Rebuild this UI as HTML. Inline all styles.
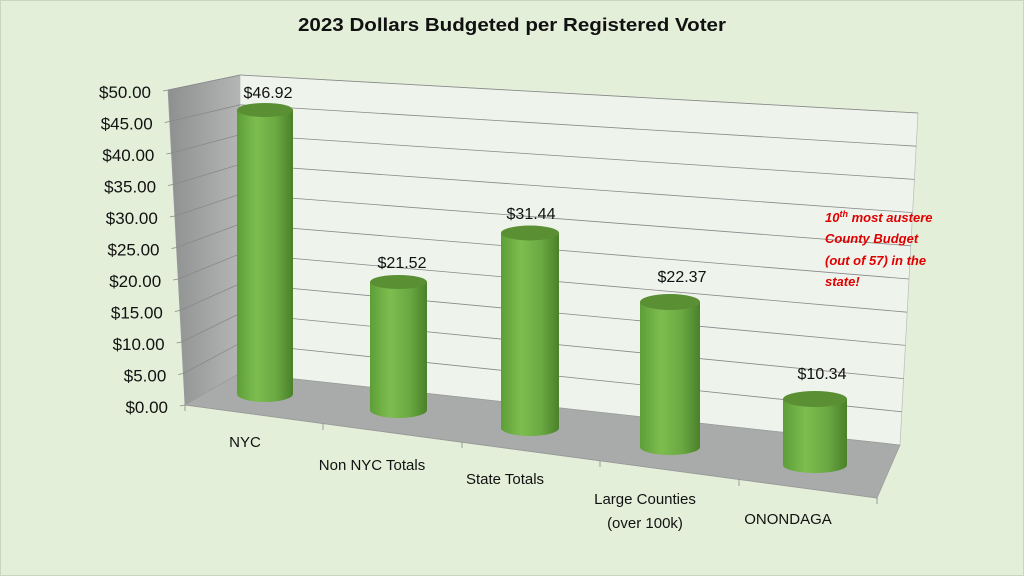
<!DOCTYPE html>
<html><head><meta charset="utf-8"><style>
body{margin:0;background:#e3efd9;}
svg{display:block;font-family:"Liberation Sans",sans-serif;}
</style></head><body>
<svg width="1024" height="576" viewBox="0 0 1024 576">
<defs>
<linearGradient id="cyl" x1="0" x2="1" y1="0" y2="0">
<stop offset="0" stop-color="#5e9e38"/><stop offset="0.35" stop-color="#7dbd4f"/><stop offset="0.7" stop-color="#6aa842"/><stop offset="1" stop-color="#4a8129"/>
</linearGradient>
<linearGradient id="side" x1="0" x2="1"><stop offset="0" stop-color="#8e9090"/><stop offset="1" stop-color="#b4b6b6"/></linearGradient>
</defs>
<rect width="1024" height="576" fill="#e3efd9"/>
<rect x="0.5" y="0.5" width="1023" height="575" fill="none" stroke="#c8d6bf"/>
<text x="512" y="31" text-anchor="middle" font-size="18" font-weight="bold" fill="#111" textLength="428" lengthAdjust="spacingAndGlyphs">2023 Dollars Budgeted per Registered Voter</text>
<polygon points="168,90 240,75 240,373 185,405" fill="url(#side)" stroke="#999" stroke-width="0.7"/>
<polygon points="240,75 918,113 900,445 240,373" fill="#eef3ec" stroke="#bbb" stroke-width="0.7"/>
<polygon points="185,405 240,373 900,445 877,498" fill="#a9abab" stroke="#999" stroke-width="0.7"/>
<g stroke="#888" stroke-width="0.8" fill="none">
<line x1="240" y1="75" x2="918" y2="113"/><line x1="240" y1="104.8" x2="916.2" y2="146.2"/><line x1="240" y1="134.6" x2="914.4" y2="179.4"/><line x1="240" y1="164.4" x2="912.6" y2="212.6"/><line x1="240" y1="194.2" x2="910.8" y2="245.8"/><line x1="240" y1="224" x2="909" y2="279"/><line x1="240" y1="253.8" x2="907.2" y2="312.2"/><line x1="240" y1="283.6" x2="905.4" y2="345.4"/><line x1="240" y1="313.4" x2="903.6" y2="378.6"/><line x1="240" y1="343.2" x2="901.8" y2="411.8"/>
<line x1="168" y1="90" x2="240" y2="75"/><line x1="169.7" y1="121.5" x2="240" y2="104.8"/><line x1="171.4" y1="153" x2="240" y2="134.6"/><line x1="173.1" y1="184.5" x2="240" y2="164.4"/><line x1="174.8" y1="216" x2="240" y2="194.2"/><line x1="176.5" y1="247.5" x2="240" y2="224"/><line x1="178.2" y1="279" x2="240" y2="253.8"/><line x1="179.9" y1="310.5" x2="240" y2="283.6"/><line x1="181.6" y1="342" x2="240" y2="313.4"/><line x1="183.3" y1="373.5" x2="240" y2="343.2"/>
<line x1="185" y1="405" x2="877" y2="498" stroke="#999"/>
<line x1="185" y1="405" x2="185" y2="411"/><line x1="323" y1="423.6" x2="323" y2="430"/><line x1="462" y1="442" x2="462" y2="448"/><line x1="600" y1="460.8" x2="600" y2="467"/><line x1="739" y1="479.4" x2="739" y2="486"/><line x1="877" y1="498" x2="877" y2="504"/>
<line x1="163" y1="91" x2="168" y2="90"/><line x1="164.7" y1="122.5" x2="169.7" y2="121.5"/><line x1="166.4" y1="154" x2="171.4" y2="153"/><line x1="168.1" y1="185.5" x2="173.1" y2="184.5"/><line x1="169.8" y1="217" x2="174.8" y2="216"/><line x1="171.5" y1="248.5" x2="176.5" y2="247.5"/><line x1="173.2" y1="280" x2="178.2" y2="279"/><line x1="174.9" y1="311.5" x2="179.9" y2="310.5"/><line x1="176.6" y1="343" x2="181.6" y2="342"/><line x1="178.3" y1="374.5" x2="183.3" y2="373.5"/><line x1="180" y1="406" x2="185" y2="405"/>
</g>
<g font-size="17" fill="#111" text-anchor="end">
<text x="151" y="98">$50.00</text><text x="152.7" y="129.5">$45.00</text><text x="154.4" y="161">$40.00</text><text x="156.1" y="192.5">$35.00</text><text x="157.8" y="224">$30.00</text><text x="159.5" y="255.5">$25.00</text><text x="161.2" y="287">$20.00</text><text x="162.9" y="318.5">$15.00</text><text x="164.6" y="350">$10.00</text><text x="166.3" y="381.5">$5.00</text><text x="168" y="413">$0.00</text>
</g>
<g>
<path d="M237,110 L237,394 A28,8 0 0 0 293,394 L293,110 Z" fill="url(#cyl)"/><ellipse cx="265" cy="110" rx="28" ry="7" fill="#5a8f34"/>
<path d="M370,282 L370,410 A28.5,8 0 0 0 427,410 L427,282 Z" fill="url(#cyl)"/><ellipse cx="398.5" cy="282" rx="28.5" ry="7" fill="#5a8f34"/>
<path d="M501,233 L501,428 A29,8 0 0 0 559,428 L559,233 Z" fill="url(#cyl)"/><ellipse cx="530" cy="233" rx="29" ry="7.5" fill="#5a8f34"/>
<path d="M640,302 L640,447 A30,8 0 0 0 700,447 L700,302 Z" fill="url(#cyl)"/><ellipse cx="670" cy="302" rx="30" ry="8" fill="#5a8f34"/>
<path d="M783,399 L783,465 A32,8 0 0 0 847,465 L847,399 Z" fill="url(#cyl)"/><ellipse cx="815" cy="399" rx="32" ry="8" fill="#5a8f34"/>
</g>
<g font-size="16" fill="#111" text-anchor="middle">
<text x="268" y="98">$46.92</text><text x="402" y="268">$21.52</text><text x="531" y="219">$31.44</text><text x="682" y="282">$22.37</text><text x="822" y="379">$10.34</text>
</g>
<g font-size="15" fill="#111" text-anchor="middle">
<text x="245" y="447">NYC</text><text x="372" y="470">Non NYC Totals</text><text x="505" y="484">State Totals</text><text x="645" y="504">Large Counties</text><text x="645" y="528">(over 100k)</text><text x="788" y="524">ONONDAGA</text>
</g>
<g font-size="13" font-weight="bold" font-style="italic" fill="#e00000">
<text x="825" y="222">10<tspan font-size="9" dy="-5">th</tspan><tspan dy="5"> most austere</tspan></text>
<text x="825" y="243">County Budget</text><text x="825" y="265">(out of 57) in the</text><text x="825" y="286">state!</text>
</g>
</svg>
</body></html>
